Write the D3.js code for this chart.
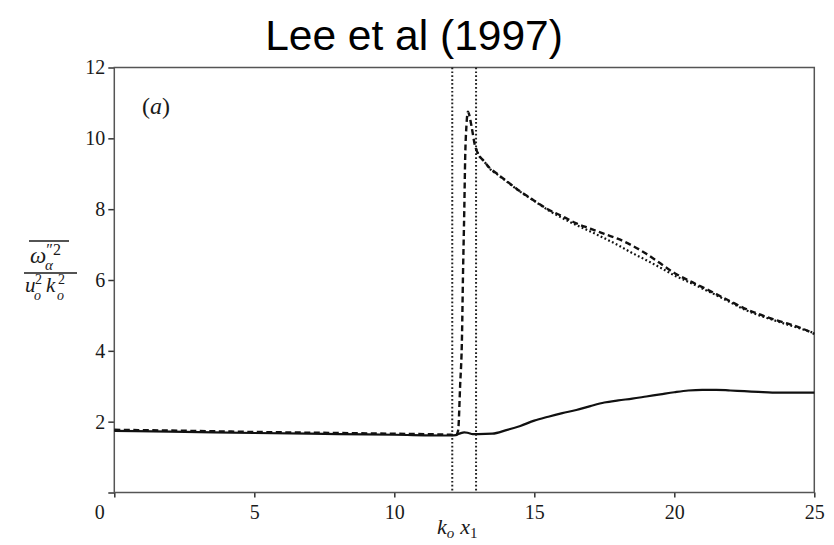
<!DOCTYPE html>
<html>
<head>
<meta charset="utf-8">
<script src="https://cdn.jsdelivr.net/npm/d3@7"></script>
<style>
  body { margin: 0; background: #fff; }
  svg { display: block; }
</style>
</head>
<body>
<svg id="chart" width="834" height="545"></svg>
<script>
// ---- data ----
const titleText = "Lee et al (1997)";
const panelTag = "(a)";
const xTicks = [0, 5, 10, 15, 20, 25];
const yTicks = [0, 2, 4, 6, 8, 10, 12];
const yTickLabels = ["", "2", "4", "6", "8", "10", "12"];
// shock-region boundaries (vertical dotted lines)
const markerX = [12.07, 12.92];

// solid curve
const solidX = [0, 2, 5, 8, 10, 12, 12.2, 12.35, 12.5, 12.65, 12.8, 13.0, 13.5, 14.0, 14.5, 15.0, 15.5, 16.0, 16.5, 17.0, 17.5, 18.0, 18.5, 19.0, 19.5, 20.0, 20.5, 21.0, 21.5, 22.0, 22.5, 23.0, 23.5, 24.0, 24.5, 25.0];
const solidY = [1.74, 1.72, 1.68, 1.65, 1.63, 1.61, 1.62, 1.67, 1.70, 1.68, 1.65, 1.65, 1.66, 1.76, 1.88, 2.03, 2.14, 2.24, 2.33, 2.44, 2.54, 2.60, 2.65, 2.71, 2.77, 2.83, 2.88, 2.90, 2.90, 2.88, 2.86, 2.84, 2.82, 2.82, 2.82, 2.82];

// dashed curve
const dashedX = [0, 2, 5, 8, 10, 12, 12.2, 12.28, 12.35, 12.42, 12.45, 12.5, 12.53, 12.58, 12.63, 12.68, 12.76, 12.88, 13.0, 13.2, 13.4, 13.7, 14.0, 14.5, 15.0, 15.5, 16.0, 16.5, 17.0, 17.5, 18.0, 18.5, 19.0, 19.5, 20.0, 20.5, 21.0, 21.5, 22.0, 22.5, 23.0, 23.5, 24.0, 24.5, 25.0];
const dashedY = [1.77, 1.75, 1.71, 1.68, 1.66, 1.63, 1.62, 1.75, 3.0, 4.5, 6.0, 8.0, 9.4, 10.4, 10.75, 10.65, 10.33, 9.8, 9.55, 9.36, 9.17, 8.98, 8.80, 8.50, 8.24, 7.99, 7.80, 7.60, 7.45, 7.30, 7.16, 6.97, 6.74, 6.47, 6.20, 5.99, 5.80, 5.60, 5.40, 5.20, 5.04, 4.90, 4.78, 4.65, 4.48];

// dotted curve
const dottedX = [12.92, 13.0, 13.2, 13.4, 13.7, 14.0, 14.5, 15.0, 15.5, 16.0, 16.5, 17.0, 17.5, 18.0, 18.5, 19.0, 19.5, 20.0, 20.5, 21.0, 21.5, 22.0, 22.5, 23.0, 23.5, 24.0, 24.5, 25.0];
const dottedY = [9.72, 9.55, 9.36, 9.15, 8.97, 8.79, 8.49, 8.23, 7.97, 7.75, 7.55, 7.37, 7.18, 6.98, 6.76, 6.56, 6.35, 6.13, 5.95, 5.76, 5.57, 5.37, 5.17, 5.01, 4.88, 4.75, 4.63, 4.50];

// ---- layout ----
const svg = d3.select("#chart");
const plot = { left: 114.3, right: 814.3, top: 67.5, bottom: 492.5 };
const x = d3.scaleLinear().domain([0, 25]).range([plot.left, plot.right]);
const y = d3.scaleLinear().domain([0, 12]).range([plot.bottom, plot.top]);

const serif = "'Liberation Serif', 'DejaVu Serif', serif";
const ink = "#1a1a1a";

// title
svg.append("text")
  .attr("x", 414).attr("y", 50)
  .attr("text-anchor", "middle")
  .attr("font-family", "'Liberation Sans', Arial, sans-serif")
  .attr("font-size", 42.5)
  .attr("fill", "#000")
  .text(titleText);

// axes
const yAxis = d3.axisLeft(y)
  .tickValues(yTicks)
  .tickSize(6)
  .tickPadding(3)
  .tickFormat((d, i) => yTickLabels[i]);
const gy = svg.append("g")
  .attr("transform", `translate(${plot.left},0)`)
  .call(yAxis);

const xAxis = d3.axisBottom(x)
  .tickValues(xTicks)
  .tickSize(5)
  .tickPadding(7)
  .tickFormat(d3.format("d"));
const gx = svg.append("g")
  .attr("transform", `translate(0,${plot.bottom})`)
  .call(xAxis);

[gx, gy].forEach(g => {
  g.select(".domain").remove();
  g.selectAll(".tick line").attr("stroke", "#333").attr("stroke-width", 1.5);
  g.selectAll(".tick text")
    .attr("font-family", serif)
    .attr("font-size", 20)
    .attr("fill", ink);
});
// the origin label sits left of the corner
gx.selectAll(".tick text").filter(d => d === 0).attr("x", -15);

// frame
svg.append("rect")
  .attr("x", plot.left).attr("y", plot.top)
  .attr("width", plot.right - plot.left)
  .attr("height", plot.bottom - plot.top)
  .attr("fill", "none")
  .attr("stroke", "#555")
  .attr("stroke-width", 1.5);

// vertical boundary markers
svg.selectAll("line.marker")
  .data(markerX)
  .join("line")
  .attr("class", "marker")
  .attr("x1", d => x(d)).attr("x2", d => x(d))
  .attr("y1", plot.top).attr("y2", plot.bottom)
  .attr("stroke", "#222")
  .attr("stroke-width", 2)
  .attr("stroke-dasharray", "1.7,2.2");

// curves
const line = d3.line()
  .x(d => x(d[0]))
  .y(d => y(d[1]))
  .curve(d3.curveMonotoneX);

const zip = (xs, ys) => xs.map((v, i) => [v, ys[i]]);

svg.append("path")
  .datum(zip(dottedX, dottedY))
  .attr("d", line)
  .attr("fill", "none")
  .attr("stroke", "#111")
  .attr("stroke-width", 2.2)
  .attr("stroke-dasharray", "1.8,2.4");

svg.append("path")
  .datum(zip(solidX, solidY))
  .attr("d", line)
  .attr("fill", "none")
  .attr("stroke", "#111")
  .attr("stroke-width", 2.2);

svg.append("path")
  .datum(zip(dashedX, dashedY))
  .attr("d", line)
  .attr("fill", "none")
  .attr("stroke", "#111")
  .attr("stroke-width", 2.4)
  .attr("stroke-dasharray", "6,3.5");

// panel tag
svg.append("text")
  .attr("x", 142).attr("y", 114)
  .attr("font-family", serif)
  .attr("font-size", 24)
  .attr("fill", ink)
  .html('(<tspan font-style="italic">a</tspan>)');

// x-axis label: k_o x_1
const xl = svg.append("text")
  .attr("x", 437).attr("y", 534)
  .attr("font-family", serif)
  .attr("font-size", 22)
  .attr("fill", ink);
xl.append("tspan").attr("font-style", "italic").text("k");
xl.append("tspan").attr("font-style", "italic").attr("font-size", 15).attr("dy", 4).text("o");
xl.append("tspan").attr("font-style", "italic").attr("dx", 6).attr("dy", -4).text("x");
xl.append("tspan").attr("font-size", 15).attr("dy", 4).text("1");

// y-axis label: overline(omega''^2_alpha) / (u_o^2 k_o^2), as one text with shifted tspans
const yl = svg.append("g").attr("fill", ink).attr("font-family", serif);
const num = yl.append("text").attr("x", 30).attr("y", 263).attr("font-size", 23);
num.append("tspan").attr("font-style", "italic").text("ω");
num.append("tspan").attr("font-size", 16).attr("dy", -8).text("″2");
num.append("tspan").attr("font-size", 15).attr("font-style", "italic")
  .attr("x", 45).attr("dy", 15).text("α");
yl.append("line")
  .attr("x1", 29).attr("x2", 69).attr("y1", 241).attr("y2", 241)
  .attr("stroke", ink).attr("stroke-width", 1.4);
yl.append("line")
  .attr("x1", 24).attr("x2", 77).attr("y1", 273).attr("y2", 273)
  .attr("stroke", ink).attr("stroke-width", 1.7);
const den = yl.append("text").attr("x", 25).attr("y", 292).attr("font-size", 21);
den.append("tspan").attr("font-style", "italic").text("u");
den.append("tspan").attr("font-size", 14).attr("x", 35).attr("dy", -8).text("2");
den.append("tspan").attr("font-size", 14).attr("font-style", "italic").attr("x", 34).attr("dy", 16).text("o");
den.append("tspan").attr("font-style", "italic").attr("x", 46).attr("dy", -8).text("k");
den.append("tspan").attr("font-size", 14).attr("x", 58).attr("dy", -8).text("2");
den.append("tspan").attr("font-size", 14).attr("font-style", "italic").attr("x", 57).attr("dy", 16).text("o");
</script>
</body>
</html>
